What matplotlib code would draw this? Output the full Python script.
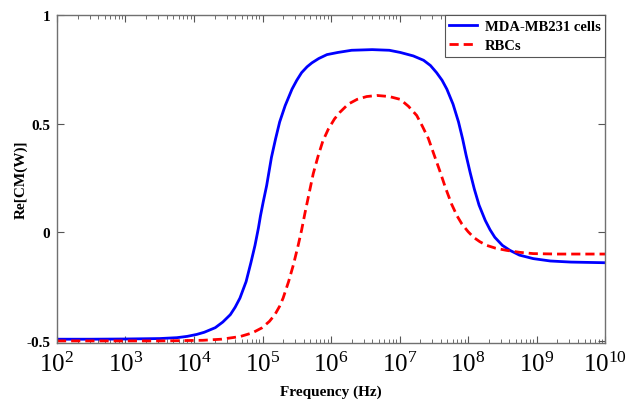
import matplotlib
matplotlib.use("Agg")
import matplotlib.pyplot as plt
from matplotlib.ticker import LogLocator, FixedLocator, NullFormatter
import numpy as np

# log10(frequency in Hz) and Re[CM] values
mda_logf = [2.0, 2.5, 3.0, 3.5, 3.75, 3.9, 4.04, 4.15, 4.31, 4.42, 4.53, 4.60,
            4.67, 4.76, 4.83, 4.89, 4.94, 4.97, 5.01, 5.06, 5.13, 5.19, 5.25, 5.33,
            5.43, 5.50, 5.57, 5.65, 5.72, 5.82, 5.94, 6.10, 6.30, 6.60, 6.85, 7.01,
            7.20, 7.35, 7.45, 7.54, 7.62, 7.69, 7.78, 7.86, 7.92, 7.97, 8.03, 8.09,
            8.16, 8.25, 8.32, 8.39, 8.50, 8.61, 8.75, 8.95, 9.20, 9.50, 10.0]
mda_cm = [-0.492, -0.492, -0.491, -0.489, -0.485, -0.479, -0.470, -0.460, -0.439,
          -0.413, -0.379, -0.345, -0.303, -0.227, -0.140, -0.060, 0.020, 0.076,
          0.140, 0.215, 0.345, 0.430, 0.508, 0.583, 0.659, 0.700, 0.735, 0.762,
          0.780, 0.800, 0.818, 0.828, 0.838, 0.841, 0.838, 0.828, 0.812, 0.792,
          0.768, 0.735, 0.700, 0.659, 0.590, 0.508, 0.430, 0.356, 0.275, 0.200,
          0.125, 0.055, 0.012, -0.023, -0.060, -0.083, -0.105, -0.121, -0.132,
          -0.137, -0.140]

rbc_logf = [2.0, 3.0, 3.5, 4.13, 4.4, 4.67, 4.85, 4.99, 5.10, 5.18, 5.25, 5.30,
            5.38, 5.45, 5.52, 5.57, 5.62, 5.68, 5.74, 5.81, 5.88, 5.96, 6.05, 6.13,
            6.25, 6.38, 6.52, 6.67, 6.85, 7.01, 7.13, 7.25, 7.33, 7.42, 7.50, 7.59,
            7.67, 7.76, 7.84, 7.91, 8.00, 8.08, 8.17, 8.27, 8.40, 8.56, 8.75, 8.95,
            9.30, 10.0]
rbc_cm = [-0.500, -0.500, -0.500, -0.497, -0.492, -0.480, -0.463, -0.440, -0.410,
          -0.379, -0.340, -0.303, -0.227, -0.150, -0.060, 0.010, 0.090, 0.180,
          0.270, 0.350, 0.420, 0.475, 0.522, 0.553, 0.590, 0.612, 0.625, 0.630,
          0.625, 0.612, 0.580, 0.538, 0.490, 0.432, 0.360, 0.280, 0.205, 0.129,
          0.075, 0.038, 0.003, -0.023, -0.043, -0.060, -0.073, -0.083, -0.092,
          -0.098, -0.100, -0.100]

series_labels = ["MDA-MB231 cells", "RBCs"]
xticks_exp = [2, 3, 4, 5, 6, 7, 8, 9, 10]
yticks = [-0.5, 0, 0.5, 1]
ytick_labels = ["-0.5", "0", "0.5", "1"]

plt.rcParams['font.family'] = ['Liberation Serif', 'DejaVu Serif']
plt.rcParams['mathtext.fontset'] = 'custom'
plt.rcParams['mathtext.rm'] = 'Liberation Serif'
plt.rcParams['mathtext.it'] = 'Liberation Serif:italic'
plt.rcParams['mathtext.bf'] = 'Liberation Serif:bold'

fig = plt.figure(figsize=(6.33, 4.02), dpi=100)
ax = fig.add_axes([0.090, 0.144, 0.866, 0.816])

ax.plot(10 ** np.array(mda_logf), mda_cm, color='#0000ff', lw=2.0,
        label=series_labels[0], solid_joinstyle='round')
ax.plot(10 ** np.array(rbc_logf), rbc_cm, color='#ff0000', lw=2.0, ls=(0, (3.3, 1.8)),
        label=series_labels[1], dash_joinstyle='round')

ax.set_xscale('log')
ax.set_xlim(1e2, 1e10)
ax.set_ylim(-0.51, 1.0)

ax.xaxis.set_major_locator(FixedLocator([10.0 ** e for e in xticks_exp]))
ax.set_xticklabels([r'$10^{%d}$' % e for e in xticks_exp], fontsize=18)
ax.xaxis.set_minor_locator(LogLocator(base=10, subs=np.arange(2, 10), numticks=100))
ax.xaxis.set_minor_formatter(NullFormatter())

ax.set_yticks(yticks)
ax.set_yticklabels(ytick_labels, fontsize=11, fontweight='bold')

ax.tick_params(axis='both', which='major', direction='in', length=5, width=0.8,
               color='#555555', top=True, right=True)
ax.tick_params(axis='x', which='minor', direction='in', length=3, width=0.6,
               color='#555555', top=True)
ax.tick_params(axis='x', which='major', pad=6)
ax.tick_params(axis='y', which='major', pad=5)

for s in ax.spines.values():
    s.set_color('#707070')
    s.set_linewidth(1.0)

ax.set_xlabel('Frequency (Hz)', fontsize=11, fontweight='bold', labelpad=6)
ax.set_ylabel('Re[CM(W)]', fontsize=11, fontweight='bold', labelpad=-1)

leg = ax.legend(loc='upper right', bbox_to_anchor=(1.0, 1.0), fancybox=False,
                framealpha=1, edgecolor='#555555', borderaxespad=0,
                prop={'family': 'Liberation Serif', 'weight': 'bold', 'size': 10.5},
                handlelength=1.9, borderpad=0.3, labelspacing=0.45, handletextpad=0.55)
leg.get_frame().set_linewidth(0.8)

fig.savefig('out.png', dpi=100, facecolor='white')
